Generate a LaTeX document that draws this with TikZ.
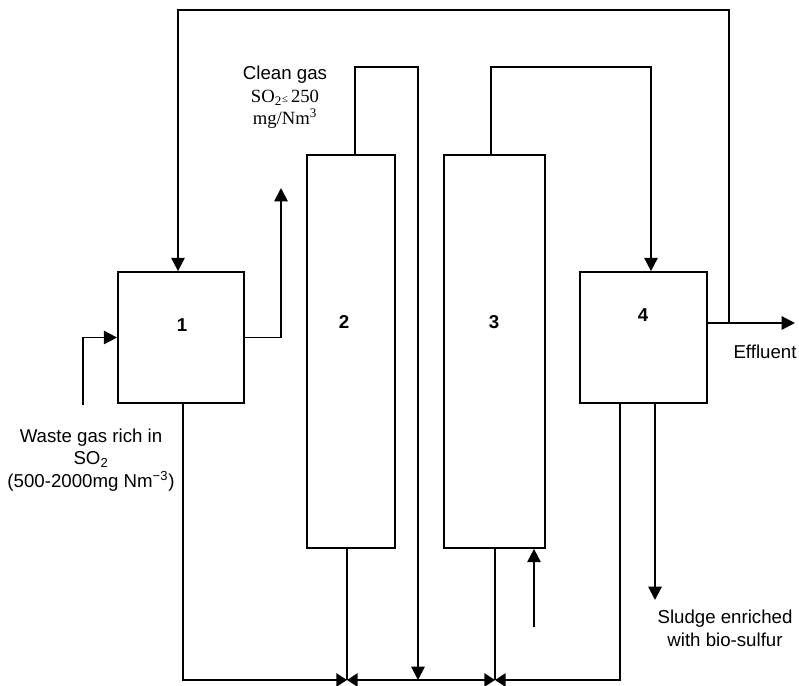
\documentclass[tikz,border=0pt]{standalone}
\usepackage{fontspec}
\setmainfont{Liberation Sans}
\newfontfamily\serifone{Liberation Serif}
\usetikzlibrary{arrows.meta}
\begin{document}
\begin{tikzpicture}[x=0.75pt,y=-0.75pt,
  box/.style={draw,line width=1.3pt,inner sep=0pt},
  flow/.style={line width=1.4pt},
  arr/.style={flow,-{Triangle[length=10pt,width=10pt]}},
  jarr/.style={flow,-{Triangle[length=8pt,width=10pt]}},
  lbl/.style={font=\fontsize{14}{17}\selectfont,align=center,inner sep=0pt},
  num/.style={font=\fontsize{14}{17}\selectfont\bfseries,inner sep=0pt}]
\useasboundingbox (0,0) rectangle (799,685);
% boxes
\node[box,minimum width=94.5pt,minimum height=98.25pt] (b1) at (181,337.5) {};
\node[box,minimum width=66pt,minimum height=294.75pt] (b2) at (351,351.5) {};
\node[box,minimum width=75.75pt,minimum height=294.75pt] (b3) at (494.5,351.5) {};
\node[box,minimum width=95.25pt,minimum height=98.25pt] (b4) at (643.5,337.5) {};
\node[num] (n1) at (182,325) {1};
\node[num] (n2) at (344,322) {2};
\node[num] (n3) at (494,322) {3};
\node[num] (n4) at (643,315) {4};
% coordinates
\coordinate (tl) at (178,10);
\coordinate (tr) at (729,10);
\coordinate (eff) at (795,323);
\coordinate (p2a) at (355,67);
\coordinate (p2b) at (418,67);
\coordinate (p3a) at (491,67);
\coordinate (p3b) at (651,67);
\coordinate (cg) at (281,188);
\coordinate (wi) at (83,405);
\coordinate (d1) at (183,680);
\coordinate (jA) at (347,680);
\coordinate (jC) at (418,680);
\coordinate (jB) at (495,680);
\coordinate (d4) at (620,680);
\coordinate (s3) at (534,627);
\coordinate (sl) at (655,600);
% top recycle loop
\draw[arr] (tr |- eff) -- (tr) -- (tl) -- (tl |- b1.north);
\draw[arr] (b4.east |- eff) -- (eff);
% column 2 top
\draw[arr] (b2.north -| p2a) -- (p2a) -- (p2b) -- (jC);
% column 3 top
\draw[arr] (b3.north -| p3a) -- (p3a) -- (p3b) -- (p3b |- b4.north);
% clean gas out
\draw[arr] (b1.east) -| (cg);
% waste gas in
\draw[arr] (wi) |- (b1.west);
% bottom lines
\draw[jarr] (b1.south -| d1) -- (d1) -- (jA);
\draw[flow] (b2.south -| jA) -- (jA);
\draw[jarr] (jC) -- (jA);
\draw[jarr] (jC) -- (jB);
\draw[flow] (b3.south -| jB) -- (jB);
\draw[jarr] (b4.south -| d4) -- (d4) -- (jB);
\draw[arr] (s3) -- (s3 |- b3.south);
\draw[arr] (b4.south -| sl) -- (sl);
% labels
\node[lbl] (tclean) at (285,75) {Clean gas};
\node[lbl,font=\fontsize{14}{17}\serifone] (tso) at (285,98) {SO\textsubscript{2}{\footnotesize ≤}\,250};
\node[lbl,font=\fontsize{14}{17}\serifone] (tmg) at (285,119) {mg/Nm\textsuperscript{3}};
\node[lbl] (twaste) at (91,460) {Waste gas rich in\\SO\textsubscript{2}\\(500-2000mg Nm\textsuperscript{−3})};
\node[lbl] (teff) at (765,352) {Effluent};
\node[lbl] (tsl) at (725,628) {Sludge enriched\\with bio-sulfur};
\end{tikzpicture}
\end{document}
